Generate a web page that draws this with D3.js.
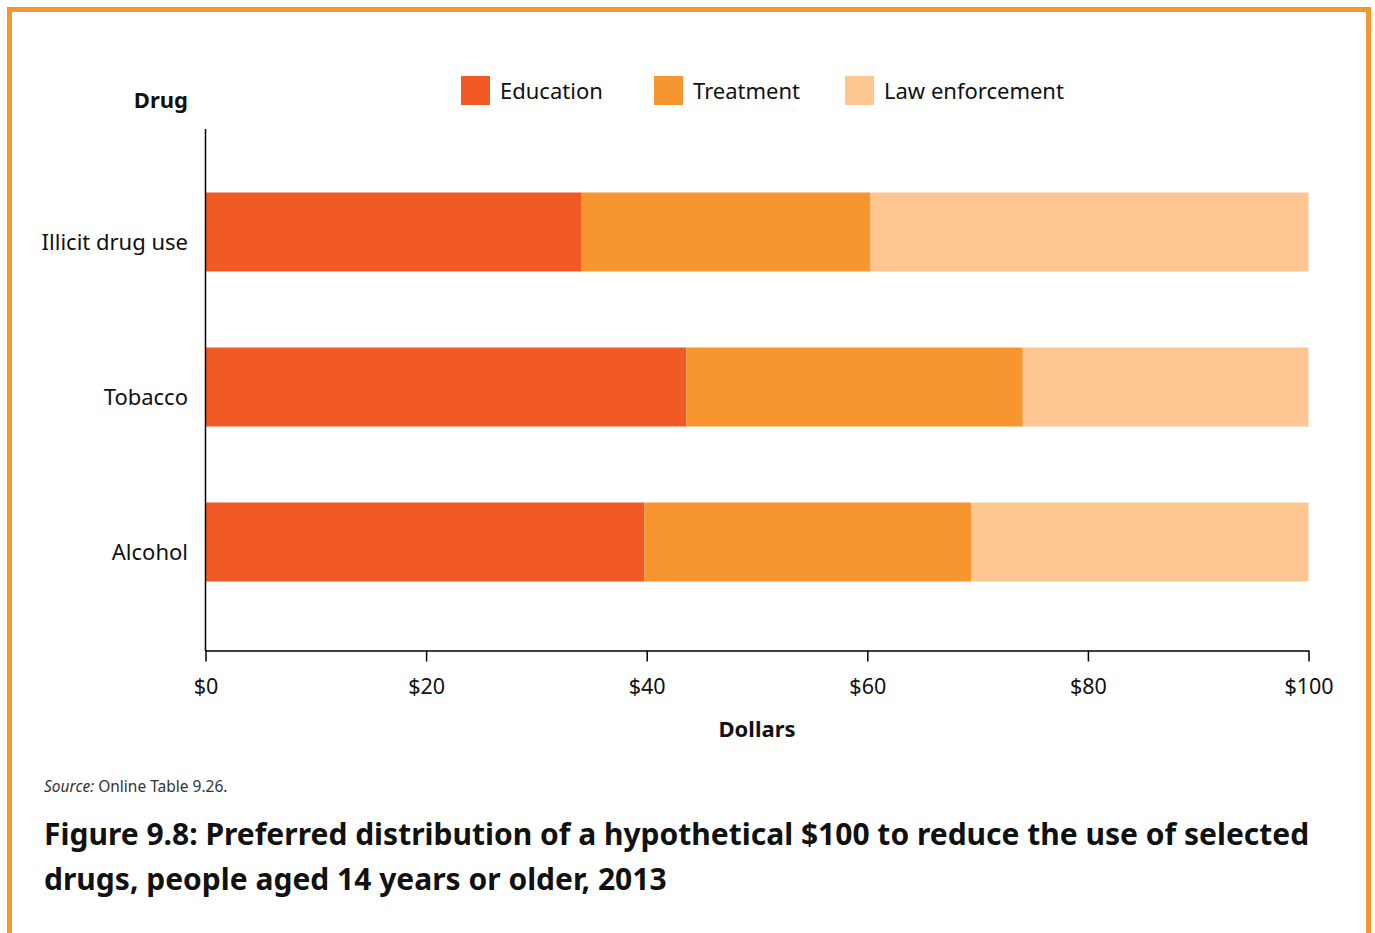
<!DOCTYPE html>
<html>
<head>
<meta charset="utf-8">
<title>Figure 9.8</title>
<script src="https://cdn.jsdelivr.net/npm/d3@7"></script>
<style>
body, html { margin: 0; background: #fff; }
svg { display: block; font-family: "Noto Sans", "Open Sans", sans-serif; }
.tick text { font-size: 21.5px; fill: #111; }
.lbl { font-size: 22px; fill: #111; }
.bold { font-weight: bold; }
</style>
</head>
<body>
<script>
// data
var drugs = ["Illicit drug use", "Tobacco", "Alcohol"];
var seriesNames = ["Education", "Treatment", "Law enforcement"];
var education = [34.1, 43.6, 39.8];
var treatment = [26.2, 30.5, 29.6];
var lawEnforcement = [39.7, 25.9, 30.6];
var xTicks = [0, 20, 40, 60, 80, 100];
var colours = ["#f15a24", "#f7962f", "#fec690"];

var W = 1375, H = 933;
var svg = d3.select("body").append("svg").attr("width", W).attr("height", H);

// orange frame, open at the bottom
svg.append("rect")
  .attr("x", 9.5).attr("y", 9.5)
  .attr("width", 1359).attr("height", 960)
  .attr("fill", "none").attr("stroke", "#f7962f").attr("stroke-width", 5);

var x = d3.scaleLinear().domain([0, 100]).range([205.5, 1308.5]);
var y = d3.scalePoint().domain(drugs).range([232, 542]);
var barH = 79;

var rows = drugs.map(function(d, i) {
  return { drug: d, Education: education[i], Treatment: treatment[i], "Law enforcement": lawEnforcement[i] };
});
var stacked = d3.stack().keys(seriesNames)(rows);

svg.append("g").selectAll("g")
  .data(stacked)
  .enter().append("g")
  .attr("fill", function(d, i) { return colours[i]; })
  .selectAll("rect")
  .data(function(d) { return d; })
  .enter().append("rect")
  .attr("x", function(d) { return x(d[0]); })
  .attr("width", function(d) { return x(d[1]) - x(d[0]); })
  .attr("y", function(d) { return y(d.data.drug) - barH / 2; })
  .attr("height", barH);

// x axis
var xAxis = svg.append("g")
  .attr("transform", "translate(0,650.5)")
  .call(d3.axisBottom(x).tickValues(xTicks).tickSize(11).tickSizeOuter(0)
    .tickFormat(function(d) { return "$" + d; }));
xAxis.select(".domain").attr("stroke", "#000").attr("stroke-width", 1.5);
xAxis.selectAll(".tick line").attr("stroke", "#000").attr("stroke-width", 1.5);
xAxis.selectAll(".tick text").attr("y", 28).attr("dy", "0.71em");
xAxis.attr("font-family", null).attr("font-size", null);

// y axis: line + labels
svg.append("line")
  .attr("x1", 205.5).attr("x2", 205.5).attr("y1", 129).attr("y2", 651)
  .attr("stroke", "#000").attr("stroke-width", 1.5);

svg.append("g").selectAll("text")
  .data(drugs)
  .enter().append("text")
  .attr("class", "lbl")
  .attr("x", 188)
  .attr("y", function(d) { return y(d) + 10; })
  .attr("dy", "0.35em")
  .attr("text-anchor", "end")
  .text(function(d) { return d; });

svg.append("text").attr("class", "lbl bold")
  .attr("x", 188).attr("y", 108).attr("text-anchor", "end").text("Drug");

svg.append("text").attr("class", "lbl bold")
  .attr("x", 757).attr("y", 737).attr("text-anchor", "middle").text("Dollars");

// legend
var legX = [461, 654, 845];
var leg = svg.append("g").selectAll("g")
  .data(seriesNames)
  .enter().append("g")
  .attr("transform", function(d, i) { return "translate(" + legX[i] + ",76)"; });
leg.append("rect").attr("width", 29).attr("height", 29)
  .attr("fill", function(d, i) { return colours[i]; });
leg.append("text").attr("class", "lbl")
  .attr("x", 39).attr("y", 23)
  .text(function(d) { return d; });

// source + title
var src = svg.append("text")
  .attr("x", 44).attr("y", 792)
  .attr("font-size", 15.5).attr("fill", "#333");
src.append("tspan").attr("font-style", "italic").text("Source:");
src.append("tspan").text(" Online Table 9.26.");

var title = svg.append("text")
  .attr("font-size", 30).attr("font-weight", "bold").attr("fill", "#111");
title.append("tspan").attr("x", 44).attr("y", 845)
  .text("Figure 9.8: Preferred distribution of a hypothetical $100 to reduce the use of selected");
title.append("tspan").attr("x", 44).attr("y", 890)
  .text("drugs, people aged 14 years or older, 2013");
</script>
</body>
</html>
